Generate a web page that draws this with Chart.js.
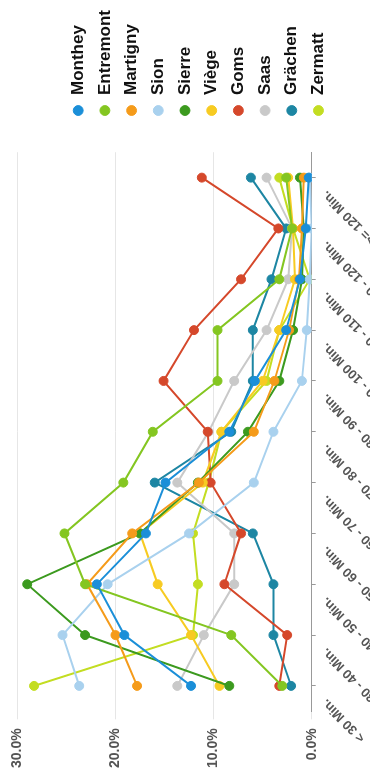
<!DOCTYPE html>
<html>
<head>
<meta charset="utf-8">
<script src="https://cdn.jsdelivr.net/npm/chart.js@4.4.1/dist/chart.umd.min.js"></script>
<style>
  html, body { margin: 0; padding: 0; background: #fff; overflow: hidden; }
  body { width: 370px; height: 780px; position: relative; }
  /* the chart is drawn lying on its side, so the box is turned a quarter left */
  #wrap {
    position: absolute; left: 0; top: 0;
    width: 780px; height: 392px;
    transform-origin: 0 0;
    transform: translate(0, 780px) rotate(-90deg);
  }
</style>
</head>
<body>
<div id="wrap"><canvas id="travelChart" width="780" height="392"></canvas></div>
<script>
const categories = ['< 30 Min.', '30 - 40 Min.', '40 - 50 Min.', '50 - 60 Min.', '60 - 70 Min.',
                    '70 - 80 Min.', '80 - 90 Min.', '90 - 100 Min.', '100 - 110 Min.', '110 - 120 Min.', '>= 120 Min.'];
const yTicks = [0, 10, 20, 30];

const monthey   = [12.3, 19.1, 21.9, 16.9, 14.9, 8.4, 5.8, 2.6, 1.2, 0.6, 0.3];
const entremont = [3.0, 8.2, 23.1, 25.2, 19.2, 16.2, 9.6, 9.6, 3.3, 2.0, 2.6];
const martigny  = [17.8, 20.0, 22.9, 18.3, 11.5, 5.9, 3.8, 2.3, 1.3, 1.0, 0.8];
const sion      = [23.7, 25.4, 20.8, 12.5, 5.9, 3.9, 1.0, 0.5, 0.2, 0.0, 0.2];
const sierre    = [8.4, 23.1, 29.0, 17.5, 11.6, 6.5, 3.3, 1.9, 1.0, 0.8, 1.2];
const viege     = [9.4, 12.3, 15.7, 17.5, 11.1, 9.2, 5.0, 3.3, 1.7, 1.9, 2.4];
const goms      = [3.3, 2.5, 8.9, 7.2, 10.3, 10.6, 15.1, 12.0, 7.2, 3.4, 11.2];
const saas      = [13.7, 11.0, 7.9, 7.9, 13.7, 10.5, 7.9, 4.6, 2.4, 2.0, 4.6];
const graechen  = [2.1, 3.9, 3.9, 6.0, 16.0, 8.2, 6.0, 6.0, 4.1, 2.6, 6.2];
const zermatt   = [28.3, 12.1, 11.6, 12.1, 10.5, 9.2, 4.6, 3.3, 0.2, 1.9, 3.3];

const seriesNames = ['Monthey', 'Entremont', 'Martigny', 'Sion', 'Sierre', 'Viège', 'Goms', 'Saas', 'Grächen', 'Zermatt'];
const seriesData = [monthey, entremont, martigny, sion, sierre, viege, goms, saas, graechen, zermatt];
const seriesColors = ['#1b8fd8', '#84c621', '#f59b1a', '#a9d1ee', '#3c9a1f', '#f7cb22', '#d5482b', '#c9c9c9', '#1d86a3', '#c3dd22'];

Chart.defaults.font.family = "'Liberation Sans', Arial, sans-serif";

const datasets = seriesNames.map((name, i) => ({
    label: name,
    data: seriesData[i],
    borderColor: seriesColors[i],
    backgroundColor: seriesColors[i],
    pointBackgroundColor: seriesColors[i],
    pointBorderColor: seriesColors[i],
    borderWidth: 2,
    pointRadius: 4.5,
    pointBorderWidth: 1,
    tension: 0
}));

new Chart(document.getElementById('travelChart').getContext('2d'), {
    type: 'line',
    data: { labels: categories, datasets: datasets },
    options: {
        responsive: false,
        animation: false,
        devicePixelRatio: 1,
        layout: { padding: { top: 10, left: 3, right: 0, bottom: 0 } },
        plugins: {
            tooltip: { enabled: false },
            legend: {
                position: 'right',
                align: 'start',
                title: { display: true, text: ' ', font: { size: 10 }, padding: { top: 0, bottom: 38 } },
                labels: {
                    usePointStyle: true,
                    pointStyle: 'circle',
                    boxWidth: 14,
                    boxHeight: 7,
                    padding: 9.7,
                    color: '#111',
                    font: { size: 17, weight: 'bold' }
                }
            }
        },
        scales: {
            x: {
                offset: true,
                border: { display: true, color: '#999' },
                grid: { drawOnChartArea: false, tickLength: 4, color: '#999' },
                ticks: {
                    autoSkip: false,
                    minRotation: 45,
                    maxRotation: 45,
                    labelOffset: -15,
                    color: '#555',
                    font: { size: 13, weight: 'bold' }
                }
            },
            y: {
                min: 0,
                max: 30,
                afterBuildTicks: s => { s.ticks = yTicks.map(v => ({ value: v })); },
                border: { display: false },
                grid: { color: '#e6e6e6', tickLength: 8 },
                ticks: {
                    padding: 9,
                    color: '#555',
                    font: { size: 14, weight: 'bold' },
                    callback: v => v.toFixed(1) + '%'
                }
            },
            gap: {
                position: 'right',
                display: true,
                grid: { display: false },
                border: { display: false },
                ticks: { display: false },
                afterFit: s => { s.width = 25; }
            }
        }
    }
});
</script>
</body>
</html>
